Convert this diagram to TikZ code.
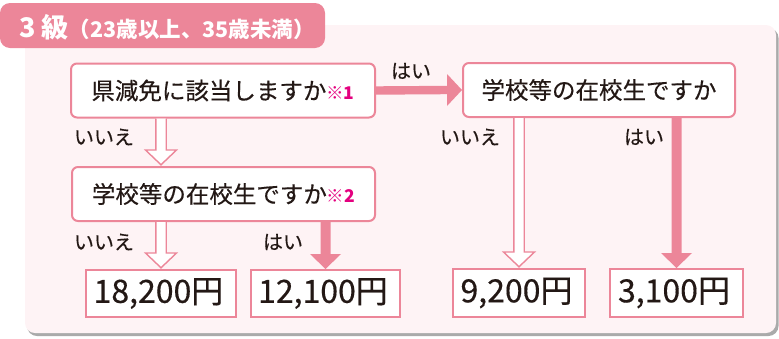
\documentclass[tikz,border=0pt]{standalone}
\usepackage{fontspec}
\setmainfont[FakeBold=0.35]{Noto Sans CJK JP}
\newfontfamily\jpb{Noto Sans CJK JP}
\usetikzlibrary{calc}
\definecolor{pinkc}{RGB}{236,134,153}
\definecolor{panelc}{RGB}{254,243,245}
\definecolor{shadowc}{RGB}{170,170,170}
\definecolor{magc}{RGB}{228,0,127}
\definecolor{inkc}{RGB}{35,24,21}
\newcommand\downsolid[2]{%
  \fill[pinkc] ($(#1)+(-5,0)$) -- ($(#2)+(-5,-15)$) -- ($(#2)+(-15.5,-15)$) -- (#2) -- ($(#2)+(15.5,-15)$) -- ($(#2)+(5,-15)$) -- ($(#1)+(5,0)$) -- cycle;}
\newcommand\downhollow[2]{%
  \draw[pinkc, fill=white, line width=1.4pt, line join=miter] ($(#1)+(-5.2,0)$) -- ($(#2)+(-5.2,-16)$) -- ($(#2)+(-15.5,-16)$) -- ($(#2)+(0,-1.2)$) -- ($(#2)+(15.5,-16)$) -- ($(#2)+(5.2,-16)$) -- ($(#1)+(5.2,0)$);}
\newcommand\rightsolid[2]{%
  \fill[pinkc] ($(#1)+(0,-4.2)$) -- ($(#2)+(-15,-4.2)$) -- ($(#2)+(-15,-16)$) -- (#2) -- ($(#2)+(-15,16)$) -- ($(#2)+(-15,4.2)$) -- ($(#1)+(0,4.2)$) -- cycle;}
\begin{document}
\begin{tikzpicture}[x=1pt,y=-1pt,
  qbox/.style={draw=pinkc, line width=2pt, fill=white, rounded corners=6pt, text=inkc,
    font=\fontsize{23.5}{24}\selectfont, inner sep=0pt, minimum height=#1},
  qbox/.default=54pt,
  abox/.style={draw=pinkc, line width=2pt, fill=white, text=inkc,
    font=\fontsize{32}{32}\selectfont, inner sep=0pt, minimum height=47pt},
  lbl/.style={text=inkc, font=\fontsize{20}{20}\selectfont, inner sep=0pt}
]
\useasboundingbox (0,0) rectangle (779,338);
% panel
\fill[shadowc, rounded corners=10pt] (27,28) rectangle (778.5,336);
\fill[panelc, rounded corners=10pt] (25,25) rectangle (776,333);
% header
\fill[pinkc, rounded corners=10pt] (0,3) rectangle (325,48);
\node[anchor=west, text=white, inner sep=0pt] (title) at (19,27)
  {{\jpb\bfseries\fontsize{27}{27}\selectfont 3 級}{\jpb\bfseries\fontsize{21.5}{22}\selectfont （23歳以上、35歳未満）}};
% question boxes
\node[qbox, minimum width=304pt] (A) at (223,90.5) {県減免に該当しますか{\color{magc}\jpb\bfseries\fontsize{17.5}{17}\selectfont ※1}};
\node[qbox, minimum width=272pt] (B) at (599,90) {学校等の在校生ですか};
\node[qbox, minimum width=303pt] (C) at (223.5,194) {学校等の在校生ですか{\color{magc}\jpb\bfseries\fontsize{17.5}{17}\selectfont ※2}};
% answer boxes
\node[abox, minimum width=150pt] (D) at (161,293.5) {18,200円\hspace*{5pt}};
\node[abox, minimum width=149pt] (E) at (325.5,293.5) {12,100円\hspace*{5pt}};
\node[abox, minimum width=132pt, minimum height=48pt] (F) at (519,293) {9,200円\hspace*{5pt}};
\node[abox, minimum width=133pt, minimum height=48pt] (G) at (676.5,293) {3,100円\hspace*{5pt}};
% connectors
\rightsolid{A.east}{B.west}
\downhollow{A.south -| D.north}{C.north -| D.north}
\downhollow{C.south -| D.north}{D.north}
\downsolid{C.south -| E.north}{E.north}
\downhollow{B.south -| F.north}{F.north}
\downsolid{B.south -| G.north}{G.north}
% labels
\node[lbl] (l1) at (411,71) {はい};
\node[lbl] (l2) at (104,137) {いいえ};
\node[lbl] (l3) at (470,137) {いいえ};
\node[lbl] (l4) at (644,137) {はい};
\node[lbl] (l5) at (104,242) {いいえ};
\node[lbl] (l6) at (283,242) {はい};
\end{tikzpicture}
\end{document}
